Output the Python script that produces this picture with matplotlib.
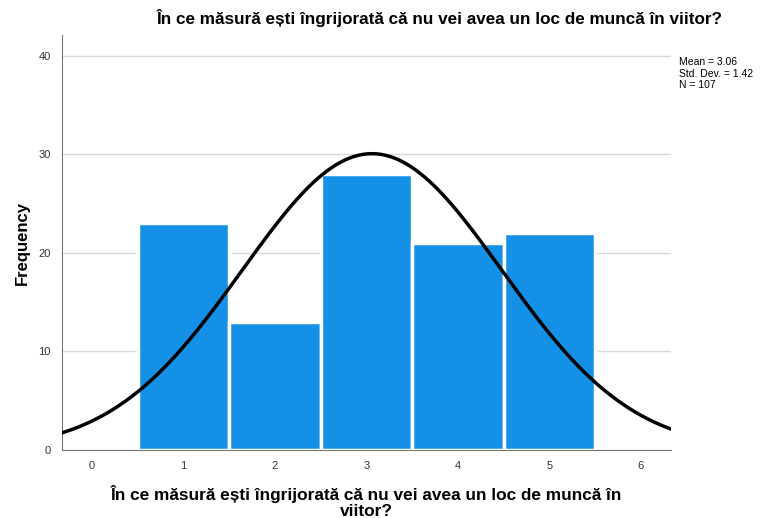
import numpy as np
import matplotlib.pyplot as plt

# valori citite de pe histograma
categorii = [1, 2, 3, 4, 5]
frecvente = [23, 13, 28, 21, 22]
media = 3.06
abatere = 1.42
n_total = 107
eticheta = "În ce măsură ești îngrijorată că nu vei avea un loc de muncă în viitor?"

plt.rcParams['font.family'] = ['Liberation Sans', 'DejaVu Sans']

fig = plt.figure(figsize=(7.71, 5.18), dpi=100)
ax = fig.add_axes([62 / 771, 1 - 450 / 518, (671 - 62) / 771, (450 - 35) / 518])

ax.bar(categorii, frecvente, width=1.0, color='#1490E6', edgecolor='white',
       linewidth=2.5, zorder=2)

xs = np.linspace(-0.4, 6.4, 400)
ys = n_total / (abatere * np.sqrt(2 * np.pi)) * np.exp(-0.5 * ((xs - media) / abatere) ** 2)
ax.plot(xs, ys, color='black', linewidth=2.5, zorder=3)

ax.set_xlim(-0.33, 6.33)
ax.set_ylim(0, 42.1)
ax.set_yticks([0, 10, 20, 30, 40])
ax.set_xticks(range(0, 7))
ax.grid(axis='y', color='#d9d9d9', linewidth=1, zorder=0)
ax.set_axisbelow(True)
for s in ['top', 'right']:
    ax.spines[s].set_visible(False)
for s in ['left', 'bottom']:
    ax.spines[s].set_color('#777777')
ax.tick_params(axis='both', length=0, labelsize=8, colors='#333333', pad=8)

ax.set_ylabel('Frequency', fontsize=12, fontweight='bold', labelpad=6)
ax.set_xlabel("În ce măsură ești îngrijorată că nu vei avea un loc de muncă în\nviitor?",
              fontsize=12.4, fontweight='bold', labelpad=10, linespacing=1.05)
fig.text(440 / 771, 1 - 18 / 518, eticheta, ha='center', va='center',
         fontsize=12.3, fontweight='bold')
fig.text(679 / 771, 1 - 57 / 518,
         f"Mean = {media:.2f}\nStd. Dev. = {abatere:.2f}\nN = {n_total}",
         ha='left', va='top', fontsize=7.5, linespacing=1.2)

fig.savefig('out.png', dpi=100)
